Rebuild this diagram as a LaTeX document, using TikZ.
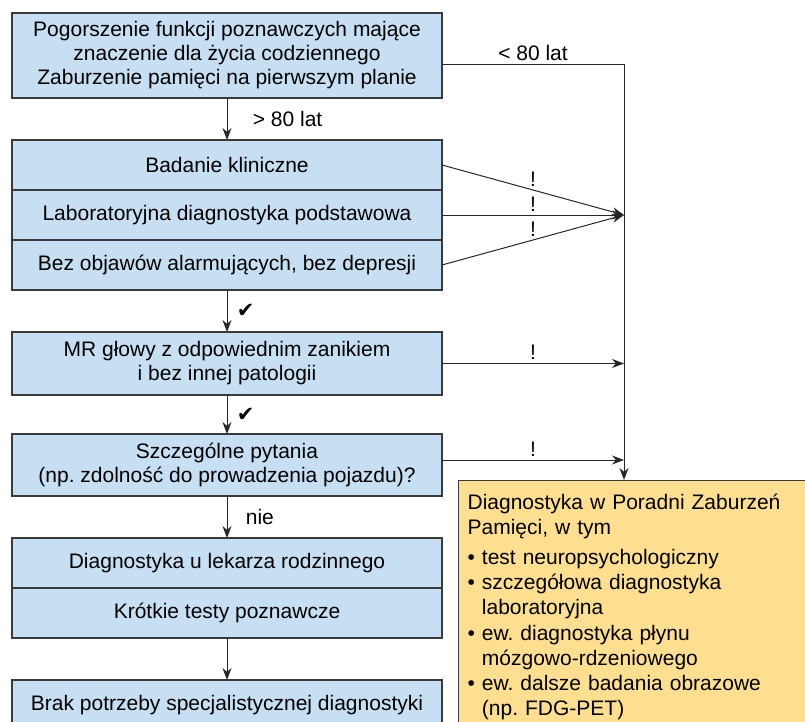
\documentclass[tikz,border=0pt]{standalone}
\usepackage{fontspec}
\setmainfont{Liberation Sans}
\newfontfamily\symfont{DejaVu Sans}
\usetikzlibrary{arrows.meta,positioning}
\definecolor{boxblue}{HTML}{C6DFF3}
\definecolor{boxyellow}{HTML}{FDDF8F}
\definecolor{edgegrey}{HTML}{3A3A3A}
\newcommand{\bul}{\textbullet\ }
\newcommand{\bulind}{\phantom{\textbullet\ }}
\frenchspacing

\begin{document}
\begin{tikzpicture}[node distance=42pt,
  font=\fontsize{21}{24}\selectfont,
  box/.style={draw=edgegrey,line width=1.2pt,fill=boxblue,minimum width=430pt,align=center,inner sep=2pt,outer sep=0pt},
  arr/.style={-{Stealth[length=12pt,width=9pt]},line width=1pt,draw=black!85}]
\useasboundingbox (0,0) rectangle (805pt,-722pt);
% left column
\node[box,minimum height=85pt,anchor=north west] (top) at (12pt,-13pt) {Pogorszenie funkcji poznawczych mające\\ znaczenie dla życia codziennego\\ Zaburzenie pamięci na pierwszym planie};
\node[box,minimum height=50pt,below=of top] (klin) {Badanie kliniczne};
\node[box,minimum height=50pt,below=0pt of klin] (lab) {Laboratoryjna diagnostyka podstawowa};
\node[box,minimum height=50pt,below=0pt of lab] (bez) {Bez objawów alarmujących, bez depresji};
\node[box,minimum height=63pt,below=of bez] (mr) {MR głowy z odpowiednim zanikiem\\ i bez innej patologii};
\node[box,minimum height=62pt,below=39pt of mr] (pyt) {Szczególne pytania\\ (np. zdolność do prowadzenia pojazdu)?};
\node[box,minimum height=50pt,below=of pyt] (lek) {Diagnostyka u lekarza rodzinnego};
\node[box,minimum height=50pt,below=0pt of lek] (krot) {Krótkie testy poznawcze};
\node[box,minimum height=50pt,below=of krot] (brak) {Brak potrzeby specjalistycznej diagnostyki};
% right box
\node[draw=edgegrey,line width=1.2pt,fill=boxyellow,anchor=north west,minimum width=352pt,text width=334pt,
  align=left,inner xsep=9pt,inner ysep=13pt,font=\fontsize{21}{25.2}\selectfont] (diag) at (458pt,-480pt)
  {Diagnostyka w Poradni Zaburzeń\\ Pamięci, w tym\\[5pt]
   \bul test neuropsychologiczny\\ \bul szczegółowa diagnostyka\\ \bulind laboratoryjna\\
   \bul ew. diagnostyka płynu\\ \bulind mózgowo-rdzeniowego\\ \bul ew. dalsze badania obrazowe\\ \bulind (np. FDG-PET)\\[10pt]};
\coordinate (junc) at (624pt,-65pt);
% connectors
\draw[arr] (top) -- node[right=22pt] {> 80 lat} (klin);
\draw[arr] (bez) -- node[right=6pt] {\symfont ✔} (mr);
\draw[arr] (mr) -- node[right=6pt] {\symfont ✔} (pyt);
\draw[arr] (pyt) -- node[right=15pt] {nie} (lek);
\draw[arr] (krot) -- (brak);
\draw[arr] (top.east |- junc) -- node[above] {< 80 lat} (junc) -- (diag.north -| junc);
\draw[arr] (klin.east) -- node[above] {!} (lab.east -| junc);
\draw[arr] (lab.east) -- node[above] {!} (lab.east -| junc);
\draw[arr] (bez.east) -- node[above] {!} (lab.east -| junc);
\draw[arr] (mr.east) -- node[above] {!} (mr.east -| junc);
\draw[arr] ([yshift=5pt]pyt.east) -- node[above] {!} ([yshift=5pt]pyt.east -| junc);
\end{tikzpicture}
\end{document}
